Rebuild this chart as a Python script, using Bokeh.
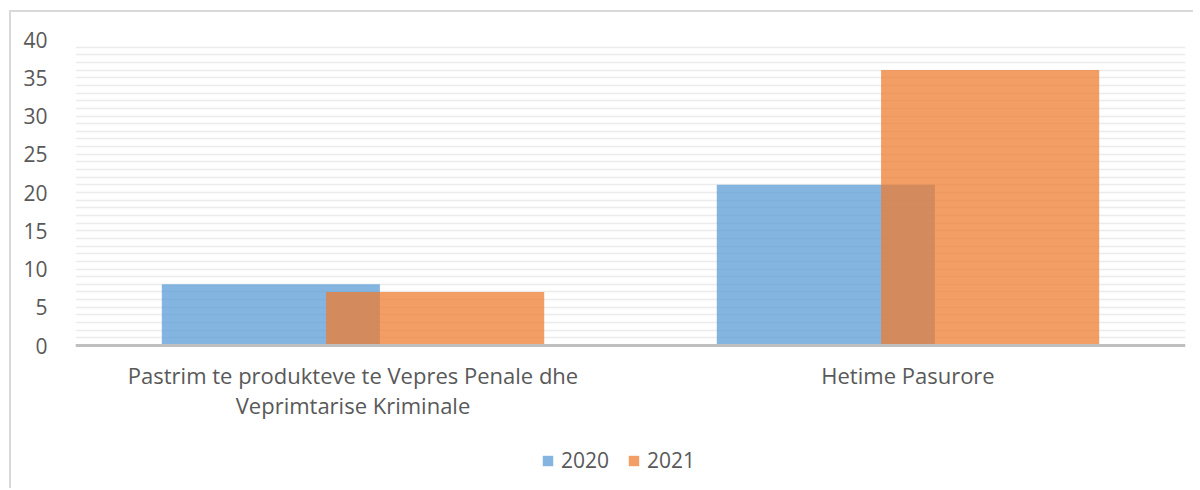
from bokeh.plotting import figure
from bokeh.models import ColumnDataSource, SingleIntervalTicker, Legend, LegendItem, Span
from bokeh.core.properties import value
from bokeh.transform import dodge
from bokeh.embed import file_html
from bokeh.resources import INLINE

categories = ["Pastrim te produkteve te Vepres Penale dhe\nVeprimtarise Kriminale", "Hetime Pasurore"]
series_names = ["2020", "2021"]
values_2020 = [8, 21]
values_2021 = [7, 36]
y_max = 40

FONT = "Open Sans"
TXT = "#595959"

W, H = 1184, 478
B_LEFT, B_RIGHT, B_TOP, B_BOTTOM = 64, 10, 27, 4
VALUE_AREA_PX = 306  # height of the 0..40 value area
frame_h = H - B_TOP - B_BOTTOM
y_start = -y_max * (frame_h - VALUE_AREA_PX) / VALUE_AREA_PX

src = ColumnDataSource(dict(cat=categories, v2020=values_2020, v2021=values_2021,
                            zero=[0] * len(categories)))

p = figure(x_range=categories, y_range=(y_start, y_max), width=W, height=H,
           output_backend="svg", toolbar_location=None,
           min_border_left=B_LEFT, min_border_right=B_RIGHT,
           min_border_top=B_TOP, min_border_bottom=B_BOTTOM)
p.outline_line_color = None
p.styles = {"border-top": "2px solid #d9d9d9", "border-left": "2px solid #d9d9d9",
            "margin-left": "9px", "margin-top": "10px"}

p.xgrid.grid_line_color = None
p.ygrid.ticker = SingleIntervalTicker(interval=1, num_minor_ticks=0)
p.ygrid.bounds = (0, y_max)
p.ygrid.grid_line_color = "#ececec"
p.ygrid.grid_line_width = 1.5

r1 = p.vbar(x=dodge("cat", -0.148, range=p.x_range), top="v2020", width=0.393, source=src,
            fill_color="#5B9BD5", fill_alpha=0.75, line_color=None)
r2 = p.vbar(x=dodge("cat", 0.148, range=p.x_range), top="v2021", width=0.393, source=src,
            fill_color="#ED7D31", fill_alpha=0.75, line_color=None)

# baseline (category axis line)
p.add_layout(Span(location=0, dimension="width", line_color="#bfbfbf", line_width=3))

# category labels under the baseline
p.text(x="cat", y="zero", text="cat", source=src, y_offset=14,
       text_align="center", text_baseline="top", text_font=value(FONT),
       text_font_size="22px", text_color=TXT, text_line_height=1.0)

p.xaxis.visible = False

p.yaxis.ticker = SingleIntervalTicker(interval=5, num_minor_ticks=0)
p.yaxis.bounds = (0, y_max)
p.yaxis.axis_line_color = None
p.yaxis.major_tick_line_color = None
p.yaxis.minor_tick_line_color = None
p.yaxis.major_label_text_font = FONT
p.yaxis.major_label_text_font_size = "21px"
p.yaxis.major_label_text_color = TXT
p.yaxis.major_label_standoff = 22

legend = Legend(items=[LegendItem(label=series_names[0], renderers=[r1]),
                       LegendItem(label=series_names[1], renderers=[r2])],
                orientation="horizontal", location=(466, 12))
legend.label_text_font = FONT
legend.label_text_font_size = "21px"
legend.label_text_color = TXT
legend.glyph_width = 13
legend.glyph_height = 13
legend.label_standoff = 7
legend.spacing = 18
legend.padding = 0
legend.margin = 0
legend.border_line_color = None
legend.background_fill_alpha = 0
p.add_layout(legend)

open("out.html", "w").write(file_html(p, INLINE))
